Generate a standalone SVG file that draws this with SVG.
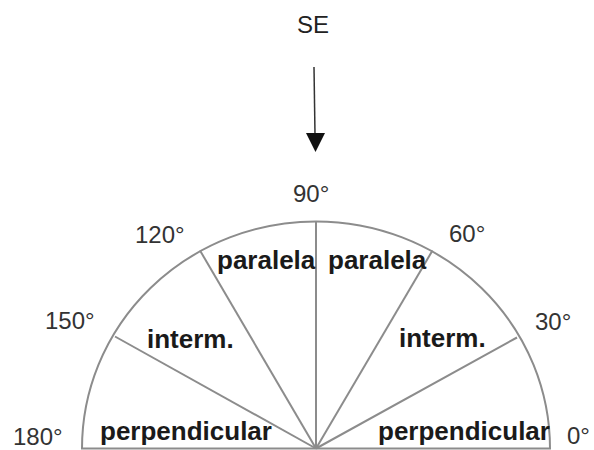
<svg xmlns="http://www.w3.org/2000/svg" width="594" height="450" viewBox="0 0 594 450">
<style>
.deg{font-family:"Liberation Sans",Arial,sans-serif;font-size:24px;fill:#333}
.lab{font-family:"Liberation Sans",Arial,sans-serif;font-size:26px;font-weight:bold;fill:#1a1a1a}
.pro{fill:none;stroke:#8c8c8c;stroke-width:2}
</style>
<rect width="594" height="450" fill="#fff"/>
<g id="protractor">
<path class="pro" d="M82,448.5 A234,227 0 0 1 550,448.5 Z"/>
</g>
<g id="connectors">
<line class="pro" x1="316" y1="448.5" x2="316" y2="221.5"/>
<line class="pro" x1="316" y1="448.5" x2="432.5" y2="250.5"/>
<line class="pro" x1="316" y1="448.5" x2="517" y2="337.5"/>
<line class="pro" x1="316" y1="448.5" x2="200" y2="250.5"/>
<line class="pro" x1="316" y1="448.5" x2="115" y2="336.5"/>
<line x1="314" y1="67" x2="315" y2="135" stroke="#333" stroke-width="1.5"/>
<polygon points="306,133 325,133 315.5,152" fill="#111"/>
</g>
<g id="SE"><text class="deg" x="313" y="33" text-anchor="middle" style="fill:#222">SE</text></g>
<g id="deg90"><text class="deg" x="293" y="202">90°</text></g>
<g id="deg120"><text class="deg" x="135" y="243">120°</text></g>
<g id="deg150"><text class="deg" x="45" y="329">150°</text></g>
<g id="deg180"><text class="deg" x="13" y="445">180°</text></g>
<g id="deg60"><text class="deg" x="449" y="242">60°</text></g>
<g id="deg30"><text class="deg" x="535" y="330">30°</text></g>
<g id="deg0"><text class="deg" x="567" y="444">0°</text></g>
<g id="paralela-left"><text class="lab" x="217" y="269">paralela</text></g>
<g id="paralela-right"><text class="lab" x="328" y="269">paralela</text></g>
<g id="interm-left"><text class="lab" x="147" y="348">interm.</text></g>
<g id="interm-right"><text class="lab" x="399" y="347">interm.</text></g>
<g id="perp-left"><text class="lab" x="100" y="440">perpendicular</text></g>
<g id="perp-right"><text class="lab" x="378" y="440">perpendicular</text></g>
</svg>
